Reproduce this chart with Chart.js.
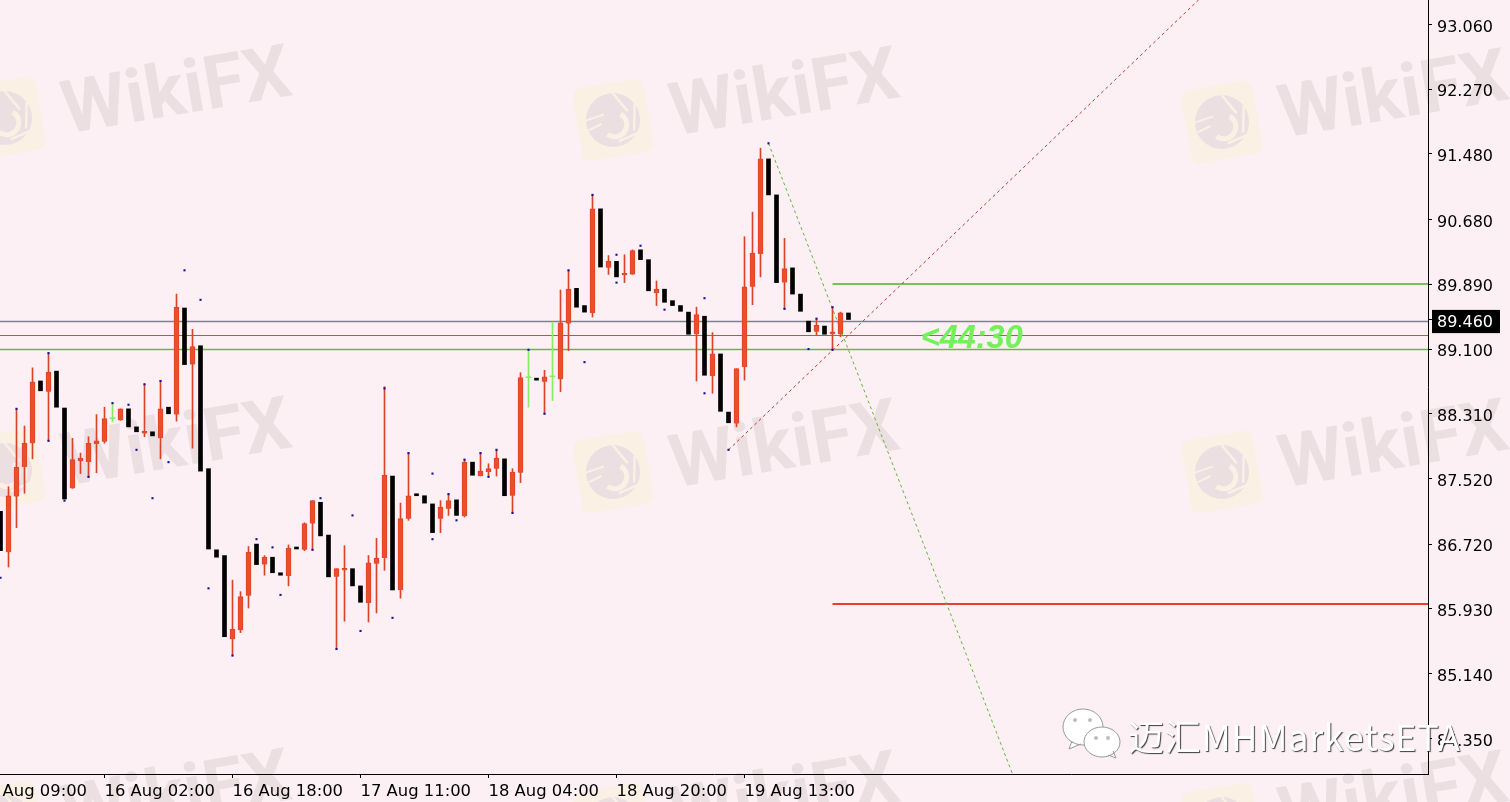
<!DOCTYPE html>
<html>
<head>
<meta charset="utf-8">
<title>Chart</title>
<script src="https://cdn.jsdelivr.net/npm/chart.js@4/dist/chart.umd.js"></script>
<style>
  html, body { margin: 0; padding: 0; background: #fdf0f4; overflow: hidden; }
  canvas { display: block; }
</style>
</head>
<body>
<canvas id="myChart" width="1510" height="802"></canvas>
<script>
"use strict";

const opens = [
  87.12, 86.62, 87.30, 87.66, 87.95, 88.71, 88.58, 88.83, 88.38, 87.40,
  87.73, 87.72, 87.94, 87.97, 88.25, 88.23, 88.37, 88.15, 88.07, 88.09,
  88.01, 88.39, 88.30, 89.60, 88.91, 89.14, 87.64, 86.65, 86.58, 85.56,
  85.67, 86.09, 86.72, 86.47, 86.56, 86.37, 86.33, 86.68, 86.65, 86.97,
  87.23, 86.83, 86.32, 86.40, 86.42, 86.21, 86.00, 86.48, 86.55, 87.55,
  86.16, 87.03, 87.33, 87.31, 87.21, 87.03, 87.15, 87.26, 87.06, 87.72,
  87.55, 87.60, 87.64, 87.76, 87.31, 87.59, 88.75, 88.73, 88.70, 88.76,
  88.73, 89.41, 89.84, 89.63, 89.54, 90.81, 90.09, 90.17, 90.00, 90.01,
  90.31, 90.19, 89.78, 89.83, 89.69, 89.63, 89.55, 89.28, 89.50, 88.77,
  89.04, 88.33, 88.19, 88.88, 89.86, 90.26, 91.42, 90.98, 89.91, 90.09,
  89.77, 89.44, 89.31, 89.38, 89.28, 89.28, 89.54,
];
const highs = [
  87.12, 87.42, 88.37, 88.16, 88.87, 88.71, 89.05, 88.83, 88.38, 88.01,
  87.83, 88.03, 88.30, 88.39, 88.44, 88.37, 88.37, 88.15, 88.67, 88.09,
  88.71, 88.39, 89.77, 89.60, 89.34, 89.14, 87.64, 86.65, 86.58, 86.28,
  86.14, 86.69, 86.72, 86.58, 86.56, 86.37, 86.71, 86.68, 86.98, 87.25,
  87.23, 86.83, 86.42, 86.70, 86.42, 86.21, 86.58, 86.79, 88.64, 87.55,
  87.22, 87.83, 87.33, 87.31, 87.21, 87.25, 87.33, 87.26, 87.75, 87.72,
  87.83, 87.70, 87.87, 87.76, 87.64, 88.81, 89.10, 88.73, 88.84, 89.43,
  89.82, 90.06, 89.84, 89.63, 90.98, 90.81, 90.24, 90.17, 90.25, 90.31,
  90.31, 90.19, 89.93, 89.83, 89.69, 89.63, 89.55, 89.61, 89.50, 89.30,
  89.04, 88.33, 88.86, 90.47, 90.77, 91.55, 91.42, 90.98, 90.45, 90.09,
  89.77, 89.44, 89.47, 89.38, 89.61, 89.55, 89.54,
];
const lows = [
  86.64, 86.44, 86.92, 87.34, 87.76, 88.59, 87.98, 88.39, 87.27, 87.40,
  87.58, 87.54, 87.59, 87.95, 88.21, 88.23, 88.15, 88.09, 88.03, 88.04,
  87.76, 88.31, 88.22, 88.91, 87.89, 87.61, 86.66, 86.56, 85.59, 85.36,
  85.64, 85.94, 86.47, 86.34, 86.37, 86.34, 86.21, 86.66, 86.64, 86.65,
  86.82, 86.32, 85.44, 85.78, 86.21, 86.01, 85.77, 85.88, 86.40, 86.16,
  86.06, 87.01, 87.31, 87.22, 86.86, 86.86, 87.07, 87.07, 87.05, 87.56,
  87.55, 87.54, 87.55, 87.31, 87.10, 87.47, 88.39, 88.72, 88.31, 88.47,
  88.58, 89.08, 89.61, 89.55, 89.49, 90.10, 90.01, 89.98, 89.91, 90.01,
  90.19, 89.81, 89.63, 89.67, 89.63, 89.56, 89.28, 88.71, 88.78, 88.56,
  88.34, 88.20, 88.15, 88.72, 89.64, 89.98, 90.98, 89.91, 89.59, 89.77,
  89.56, 89.31, 89.27, 89.28, 89.09, 89.25, 89.46,
];
const closes = [
  86.64, 87.31, 87.66, 87.95, 88.70, 88.59, 88.82, 88.39, 87.27, 87.75,
  87.77, 87.95, 87.98, 88.25, 88.25, 88.37, 88.15, 88.09, 88.09, 88.04,
  88.37, 88.31, 89.61, 88.91, 89.13, 87.61, 86.66, 86.56, 85.59, 85.68,
  86.08, 86.62, 86.47, 86.56, 86.37, 86.34, 86.67, 86.66, 86.97, 87.25,
  86.82, 86.32, 86.42, 86.42, 86.21, 86.01, 86.49, 86.55, 87.56, 86.16,
  87.03, 87.31, 87.31, 87.22, 86.86, 87.17, 87.25, 87.07, 87.72, 87.56,
  87.61, 87.64, 87.77, 87.31, 87.60, 88.75, 88.75, 88.72, 88.76, 88.76,
  89.42, 89.83, 89.61, 89.55, 90.81, 90.10, 90.17, 89.98, 90.02, 90.30,
  90.19, 89.81, 89.83, 89.67, 89.63, 89.56, 89.28, 89.52, 88.78, 89.04,
  88.34, 88.20, 88.86, 89.86, 90.27, 91.42, 90.98, 89.91, 90.08, 89.77,
  89.56, 89.31, 89.39, 89.28, 89.31, 89.54, 89.46,
];
const greenDojis = [14, 66, 69];

const fractalBars = [
  0, 2, 6, 6, 8, 11, 14, 16, 17, 18, 19, 20, 21, 23, 25, 26, 29, 32, 34, 35, 39, 40, 42, 44, 45, 48, 49, 51,
  54, 54, 56, 57, 58, 60, 61, 62, 64, 66, 68, 71, 73, 74, 77, 77, 80, 83, 88, 88, 91, 96, 98, 101, 102, 104, 104,
];
const fractalPrices = [
  86.31, 88.37, 89.05, 87.98, 87.25, 87.54, 88.44, 88.42, 87.87, 88.67, 87.28, 88.71, 87.72, 90.06, 89.70, 86.18,
  85.36, 86.78, 86.68, 86.10, 86.65, 87.28, 85.44, 87.07, 85.66, 88.62, 85.82, 87.83, 87.58, 86.78, 87.33, 87.01,
  87.75, 87.83, 87.54, 87.87, 87.10, 89.09, 88.31, 90.06, 88.94, 90.98, 90.25, 89.91, 90.36, 89.58, 89.72, 88.56,
  87.87, 91.61, 89.59, 89.10, 89.47, 89.61, 89.09,
];

const priceTicks = [93.06, 92.27, 91.48, 90.68, 89.89, 89.46, 89.10, 88.31, 87.52, 86.72, 85.93, 85.14, 84.35];
const currentPrice = 89.46;
const timeTickBars = [-3, 13, 29, 45, 61, 77, 93];
const timeTickLabels = ["15 Aug 09:00", "16 Aug 02:00", "16 Aug 18:00", "17 Aug 11:00", "18 Aug 04:00", "18 Aug 20:00", "19 Aug 13:00"];

const firstBar = -0.0625;
const lastBar = 178.4375;
const topPrice = 93.358;
const bottomPrice = 83.915;

const levelGreenThick = 89.893;
const levelRedThick = 85.989;
const levelGrey = 89.436;
const levelRed = 89.265;
const levelGreen = 89.094;
const levelStartBar = 104;

const greenTrendBars = [96, 126.5];
const greenTrendPrices = [91.61, 83.915];
const redTrendBars = [91, 149.75];
const redTrendPrices = [87.87, 93.358];

const countdownText = "<44:30";
const countdownBar = 121.4;
const countdownPrice = 89.22;
const watermarkText = "WikiFX";
const footerText = "迈汇MHMarketsETA";

const orangeBodies = [];
const blackBodies = [];
const greenBodies = [];
const orangeWicks = [];
const greenWicks = [];

for (let i = 0; i < opens.length; i++) {
  let body = { x: i, y: [opens[i], closes[i]] };
  let wick = { x: i, y: [lows[i], highs[i]] };
  if (greenDojis.includes(i)) {
    greenBodies.push(body);
    greenWicks.push(wick);
  } else if (closes[i] < opens[i]) {
    blackBodies.push(body);
  } else {
    orangeBodies.push(body);
    orangeWicks.push(wick);
  }
}

const fractals = fractalBars.map((bar, i) => ({ x: bar, y: fractalPrices[i] }));

function levelLine(price, startBar) {
  return [{ x: startBar, y: price }, { x: lastBar, y: price }];
}

function trendLine(bars, prices) {
  return bars.map((bar, i) => ({ x: bar, y: prices[i] }));
}

function lineSet(data, color, width, dash, order) {
  return {
    type: "scatter",
    showLine: true,
    data: data,
    borderColor: color,
    borderWidth: width,
    borderDash: dash,
    pointRadius: 0,
    order: order,
  };
}

function barSet(data, color, thickness, order, extra) {
  return Object.assign({
    type: "bar",
    data: data,
    backgroundColor: color,
    barThickness: thickness,
    grouped: false,
    order: order,
  }, extra);
}

function drawLogo(ctx, x, y) {
  ctx.save();
  ctx.translate(x, y);
  ctx.rotate(-0.17);
  ctx.fillStyle = "#fbf0e4";
  ctx.beginPath();
  ctx.roundRect(-36, -37, 72, 74, 8);
  ctx.fill();
  ctx.fillStyle = "#ebdfe2";
  ctx.beginPath();
  ctx.arc(0, 0, 27, 0, Math.PI * 2);
  ctx.fill();
  // pale swirl and slashes cut out of the eagle disc
  ctx.strokeStyle = "#fbf0e4";
  ctx.lineWidth = 5;
  ctx.beginPath();
  ctx.arc(1, 5, 12, -0.9, 2.4);
  ctx.stroke();
  ctx.lineWidth = 2.5;
  ctx.beginPath();
  ctx.moveTo(4, -27);
  ctx.lineTo(16, -6);
  ctx.moveTo(24, -12);
  ctx.lineTo(19, 14);
  ctx.moveTo(22, 17);
  ctx.lineTo(2, 22);
  ctx.stroke();
  ctx.lineWidth = 2;
  ctx.beginPath();
  ctx.moveTo(-27, -4);
  ctx.lineTo(-8, -7);
  ctx.moveTo(-26, 6);
  ctx.lineTo(-12, 2);
  ctx.stroke();
  ctx.restore();
}

function drawWatermarkText(ctx, x, y) {
  ctx.save();
  ctx.translate(x, y);
  ctx.rotate(-0.17);
  ctx.fillStyle = "#ecdfe2";
  ctx.font = "bold 74px Roboto";
  ctx.textAlign = "center";
  ctx.textBaseline = "middle";
  ctx.fillText(watermarkText, 0, 0);
  ctx.restore();
}

// wechat bubbles and account name sit on top of everything
function drawFooter(ctx) {
  ctx.save();
  ctx.fillStyle = "#ffffff";
  ctx.strokeStyle = "#9a9a9a";
  ctx.lineWidth = 1;
  ctx.beginPath();
  ctx.ellipse(1083, 727, 20, 18, 0, 0, Math.PI * 2);
  ctx.moveTo(1072, 741);
  ctx.lineTo(1069, 749);
  ctx.lineTo(1081, 744);
  ctx.fill();
  ctx.stroke();
  ctx.beginPath();
  ctx.ellipse(1102, 742, 18, 15, 0, 0, Math.PI * 2);
  ctx.moveTo(1108, 755);
  ctx.lineTo(1116, 758);
  ctx.lineTo(1113, 751);
  ctx.fill();
  ctx.stroke();
  ctx.fillStyle = "#bdbdbd";
  [[1075, 720], [1090, 720], [1096, 738], [1108, 738]].forEach((eye) => {
    ctx.beginPath();
    ctx.arc(eye[0], eye[1], 2, 0, Math.PI * 2);
    ctx.fill();
  });
  ctx.font = "36px 'Noto Sans CJK SC'";
  ctx.letterSpacing = "0.7px";
  ctx.textBaseline = "middle";
  ctx.fillStyle = "#ffffff";
  ctx.shadowColor = "rgba(40, 40, 40, 0.9)";
  ctx.shadowBlur = 1;
  ctx.shadowOffsetX = 1;
  ctx.shadowOffsetY = 1;
  ctx.fillText(footerText, 1128, 737);
  ctx.restore();
}

const decorations = {
  id: "decorations",
  beforeDraw(chart) {
    const ctx = chart.ctx;
    ctx.fillStyle = "#fdf0f4";
    ctx.fillRect(0, 0, chart.width, chart.height);
    [[5, 118], [613, 120], [1222, 122], [5, 470], [613, 472], [1222, 472], [5, 822], [613, 824], [1222, 824]].forEach((p) => drawLogo(ctx, p[0], p[1]));
    [[177, 96], [785, 98], [1394, 100], [177, 448], [785, 450], [1394, 450], [177, 800], [785, 802], [1394, 802]].forEach((p) => drawWatermarkText(ctx, p[0], p[1]));
  },
  afterDraw(chart) {
    const ctx = chart.ctx;
    ctx.save();
    ctx.font = "italic bold 32.5px 'Liberation Sans'";
    ctx.fillStyle = "#74f05a";
    ctx.textAlign = "center";
    ctx.textBaseline = "middle";
    ctx.fillText(countdownText, chart.scales.x.getPixelForValue(countdownBar), chart.scales.y.getPixelForValue(countdownPrice));
    ctx.restore();
    drawFooter(ctx);
  },
};

const config = {
  data: {
    datasets: [
      barSet(blackBodies, "#000000", 4, 1, { minBarLength: 2 }),
      barSet(orangeBodies, "#ea4f29", 5, 2, { minBarLength: 2, borderColor: "#dd4527", borderWidth: 1 }),
      barSet(greenBodies, "#86ee60", 5, 2, { minBarLength: 1 }),
      barSet(orangeWicks, "#d9432a", 1, 3),
      barSet(greenWicks, "#86ee60", 1, 3),
      {
        type: "scatter",
        data: fractals,
        backgroundColor: "#17149c",
        pointStyle: "rect",
        pointRadius: 1.5,
        pointBorderWidth: 0,
        order: 0,
      },
      lineSet(trendLine(greenTrendBars, greenTrendPrices), "#62b53c", 1, [3, 3], 4),
      lineSet(trendLine(redTrendBars, redTrendPrices), "#bb3a2a", 1, [3, 3], 4),
      lineSet(levelLine(levelGreenThick, levelStartBar), "#76c455", 2, [], 5),
      lineSet(levelLine(levelRedThick, levelStartBar), "#e8402a", 2, [], 5),
      lineSet(levelLine(levelGrey, firstBar), "#7f8190", 1.4, [], 5),
      lineSet(levelLine(levelRed, firstBar), "#d9483a", 1.2, [], 5),
      lineSet(levelLine(levelGreen, firstBar), "#62bd3e", 1.4, [], 5),
    ],
  },
  options: {
    responsive: false,
    animation: false,
    layout: { padding: 0, autoPadding: false },
    plugins: {
      legend: { display: false },
      tooltip: { enabled: false },
    },
    scales: {
      x: {
        type: "linear",
        min: firstBar,
        max: lastBar,
        offset: false,
        grid: { offset: false, drawOnChartArea: false, tickLength: 4, tickColor: "#000000" },
        border: { color: "#000000", width: 1 },
        afterBuildTicks(scale) {
          scale.ticks = timeTickBars.map((bar) => ({ value: bar }));
        },
        afterFit(scale) {
          scale.height = 28;
          scale.paddingLeft = 0;
          scale.paddingRight = 0;
        },
        ticks: {
          autoSkip: false,
          maxRotation: 0,
          align: "start",
          padding: 4,
          color: "#000000",
          font: { family: "'DejaVu Sans'", size: 16.4 },
          callback(value) {
            return timeTickLabels[timeTickBars.indexOf(value)];
          },
        },
      },
      y: {
        type: "linear",
        position: "right",
        min: bottomPrice,
        max: topPrice,
        grid: { drawOnChartArea: false, tickLength: 4, tickColor: "#000000" },
        border: { color: "#000000", width: 1 },
        afterBuildTicks(scale) {
          scale.ticks = priceTicks.map((price) => ({ value: price }));
        },
        afterFit(scale) {
          scale.width = 82;
          scale.paddingTop = 0;
          scale.paddingBottom = 0;
        },
        ticks: {
          autoSkip: false,
          padding: 5,
          labelOffset: 3,
          font: { family: "'DejaVu Sans'", size: 16 },
          color: (ctx) => (ctx.tick.value === currentPrice ? "#ffffff" : "#000000"),
          showLabelBackdrop: (ctx) => ctx.tick.value === currentPrice,
          backdropColor: "#000000",
          backdropPadding: { left: 5, right: 7, top: 3, bottom: 1 },
          callback(value) {
            return value.toFixed(3);
          },
        },
      },
    },
  },
  plugins: [decorations],
};

const canvasChart = document.getElementById("myChart");
new Chart(canvasChart, config);
</script>
</body>
</html>
